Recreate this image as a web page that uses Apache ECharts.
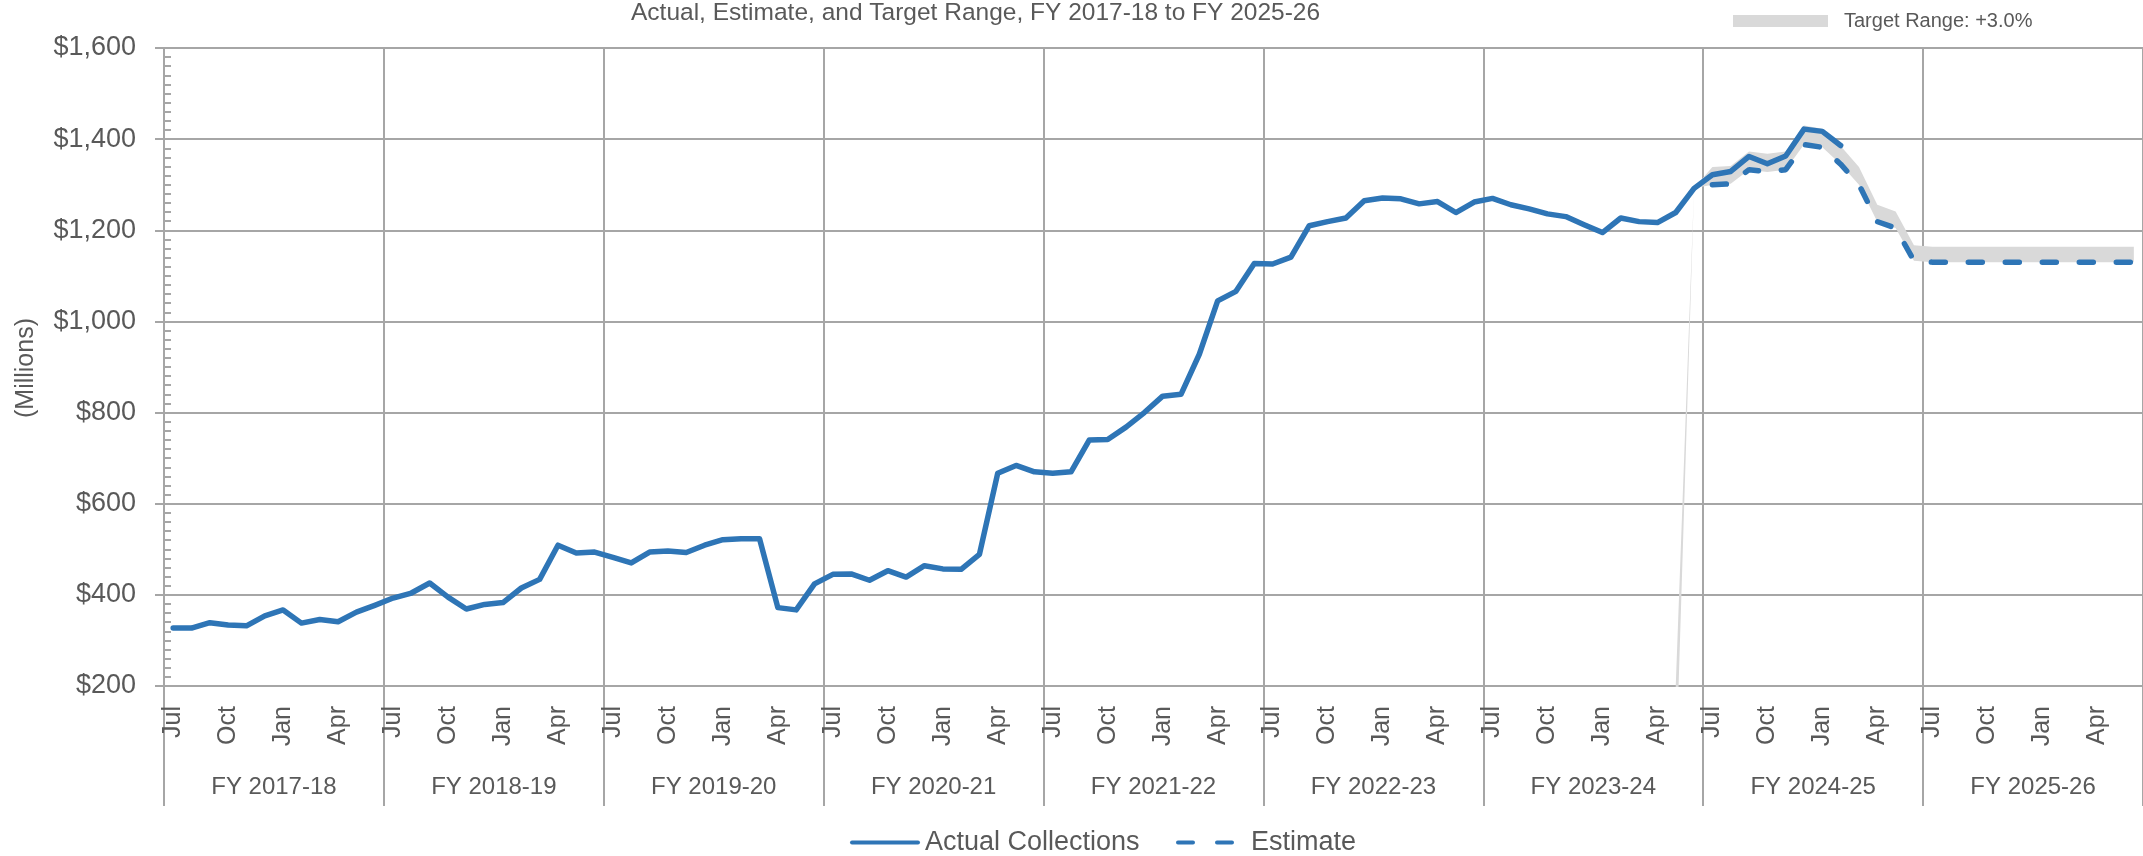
<!DOCTYPE html>
<html>
<head>
<meta charset="utf-8">
<script src="https://cdn.jsdelivr.net/npm/echarts@6/dist/echarts.min.js"></script>
<style>
  html, body { margin: 0; padding: 0; background: #ffffff; }
  #chart { width: 2143px; height: 856px; }
</style>
</head>
<body>
<div id="chart"></div>
<script>
// ---------- data ($ millions) ----------
const months = ['Jul','Aug','Sep','Oct','Nov','Dec','Jan','Feb','Mar','Apr','May','Jun'];
const fiscalYears = ['FY 2017-18','FY 2018-19','FY 2019-20','FY 2020-21','FY 2021-22',
                     'FY 2022-23','FY 2023-24','FY 2024-25','FY 2025-26'];
const yTicks = [200, 400, 600, 800, 1000, 1200, 1400, 1600];

const actual1718 = [327, 327, 339, 334, 332, 354, 367, 338, 346, 341, 362, 377];
const actual1819 = [393, 404, 426, 395, 369, 379, 383, 415, 434, 509, 492, 494];
const actual1920 = [482, 470, 494, 496, 493, 509, 521, 523, 523, 372, 367, 424];
const actual2021 = [445, 446, 432, 453, 439, 464, 457, 456, 489, 667, 684, 670];
const actual2122 = [667, 670, 740, 741, 768, 800, 836, 840, 928, 1045, 1066, 1127];
const actual2223 = [1126, 1141, 1210, 1219, 1227, 1265, 1271, 1269, 1258, 1263, 1239, 1262];
const actual2324 = [1270, 1256, 1247, 1236, 1230, 1212, 1195, 1227, 1219, 1217, 1239, 1292];
const actual2425 = [1322, 1329, 1362, 1346, 1363, 1422, 1417, 1386];   // Jul-Feb

const estimate2425 = [1300, 1302, 1333, 1328, 1333, 1388, 1382, 1345, 1300, 1219, 1205, 1133];
const estimate2526 = [1130, 1130, 1130, 1130, 1130, 1130, 1130, 1130, 1130, 1130, 1130, 1130];

// target range band (lower / upper edge), starting May FY 2023-24 (Excel blank -> 0)
const targetLow2324  = [0, 1292];                      // May, Jun
const targetHigh2324 = [0, 1292];
const targetHigh2425 = [1339, 1341, 1373, 1368, 1373, 1430, 1423, 1385, 1339, 1256, 1241, 1167];
const targetHigh2526 = [1164, 1164, 1164, 1164, 1164, 1164, 1164, 1164, 1164, 1164, 1164, 1164];

// ---------- build series arrays ----------
const categories = [];
fiscalYears.forEach(fy => months.forEach(m => categories.push(m + '|' + fy)));
const N = categories.length;

function pad(arr, start) {
  const out = new Array(N).fill(null);
  arr.forEach((v, i) => { out[start + i] = v; });
  return out;
}
const actualAll = [].concat(actual1718, actual1819, actual1920, actual2021,
                            actual2122, actual2223, actual2324, actual2425);
const actualData = pad(actualAll, 0);
const estimateData = pad([].concat(estimate2425, estimate2526), 84);
const lowAll = [].concat(targetLow2324, estimate2425, estimate2526);
const highAll = [].concat(targetHigh2324, targetHigh2425, targetHigh2526);
const bandBase = pad(lowAll, 82);
const bandWidth = pad(highAll.map((h, i) => h - lowAll[i]), 82);

// ---------- chart ----------
const FONT = "'Liberation Sans', Arial, sans-serif";
const TXT = '#595959';
const GRID = '#a6a6a6';
const BLUE = '#2e75b6';
const BAND = '#d9d9d9';
const LW = 5.5;

const chart = echarts.init(document.getElementById('chart'), null, { renderer: 'canvas' });
chart.setOption({
  animation: false,
  backgroundColor: '#ffffff',
  title: {
    text: 'Actual, Estimate, and Target Range, FY 2017-18 to FY 2025-26',
    left: 631, top: 1, padding: 0,
    textStyle: { fontFamily: FONT, fontSize: 24.5, fontWeight: 'normal', color: TXT }
  },
  legend: [
    { data: ['Actual Collections'], left: 845, top: 824, itemWidth: 70, itemHeight: 5,
      icon: 'path://M2,0H68A2,2 0 0 1 68,4H2A2,2 0 0 1 2,0Z',
      selectedMode: false, textStyle: { fontFamily: FONT, fontSize: 27, color: TXT } },
    { data: ['Estimate'], left: 1171, top: 824, itemWidth: 58, itemHeight: 5,
      icon: 'path://M2,0H17A2,2 0 0 1 17,4H2A2,2 0 0 1 2,0Z M41,0H56A2,2 0 0 1 56,4H41A2,2 0 0 1 41,0Z',
      selectedMode: false,
      textStyle: { fontFamily: FONT, fontSize: 27, color: TXT, padding: [0, 0, 0, 12] } },
    { data: [{ name: 'Target Range: +3.0%', icon: 'rect', itemStyle: { color: BAND } }],
      left: 1728, top: 6, itemWidth: 95, itemHeight: 12, selectedMode: false,
      textStyle: { fontFamily: FONT, fontSize: 20, color: TXT, padding: [0, 0, 0, 11] } }
  ],
  graphic: [{
    type: 'text', left: 14, top: 318,
    style: { text: '(Millions)', fontFamily: FONT, fontSize: 25, fill: TXT },
    rotation: Math.PI / 2, originX: 0, originY: 0
  }],
  grid: { left: 164, top: 48, width: 1980, height: 638, containLabel: false },
  xAxis: [
    {
      type: 'category', data: categories, boundaryGap: true, position: 'bottom',
      axisLine: { show: true, lineStyle: { color: GRID, width: 2 } },
      axisTick: { show: true, interval: (i) => i % 12 === 0, length: 120,
                  lineStyle: { color: GRID, width: 2 } },
      splitLine: { show: true, interval: (i) => i % 12 === 0,
                   lineStyle: { color: GRID, width: 2 } },
      axisLabel: {
        interval: (i) => i % 3 === 0, rotate: 90, margin: 20,
        fontFamily: FONT, fontSize: 25, color: TXT,
        formatter: (v) => v.split('|')[0]
      }
    },
    {
      type: 'category', data: fiscalYears, boundaryGap: true, position: 'bottom',
      axisLine: { show: false }, axisTick: { show: false }, splitLine: { show: false },
      axisLabel: { interval: 0, margin: 89, fontFamily: FONT, fontSize: 24, color: TXT }
    }
  ],
  yAxis: [
    {
      type: 'value', min: yTicks[0], max: yTicks[yTicks.length - 1], interval: 200,
      position: 'left',
      axisLine: { show: true, lineStyle: { color: GRID, width: 2 } },
      axisTick: { show: true, length: 9, lineStyle: { color: GRID, width: 2 } },
      splitLine: { show: true, lineStyle: { color: GRID, width: 2 } },
      axisLabel: {
        margin: 28, fontFamily: FONT, fontSize: 27, color: TXT,
        formatter: (v) => '$' + v.toLocaleString('en-US')
      }
    },
    {
      type: 'value', min: 200, max: 1600, interval: 20, position: 'left',
      axisLine: { show: false },
      axisTick: { show: true, inside: true, length: 7, lineStyle: { color: GRID, width: 2 } },
      splitLine: { show: false }, axisLabel: { show: false }
    }
  ],
  series: [
    {
      name: 'bandBase', type: 'line', stack: 'band', data: bandBase,
      symbol: 'none', lineStyle: { opacity: 0 }, silent: true, z: 1
    },
    {
      name: 'Target Range: +3.0%', type: 'line', stack: 'band', data: bandWidth,
      symbol: 'none', lineStyle: { opacity: 0 }, itemStyle: { color: BAND },
      areaStyle: { color: BAND, opacity: 1 }, silent: true, z: 1
    },
    {
      name: 'Estimate', type: 'line', data: estimateData, symbol: 'none',
      itemStyle: { color: BLUE },
      lineStyle: { color: BLUE, width: LW, type: [14, 23], cap: 'round' }, z: 3
    },
    {
      name: 'Actual Collections', type: 'line', data: actualData, symbol: 'none',
      itemStyle: { color: BLUE },
      lineStyle: { color: BLUE, width: LW, cap: 'round', join: 'round' }, z: 4
    }
  ]
});
</script>
</body>
</html>
